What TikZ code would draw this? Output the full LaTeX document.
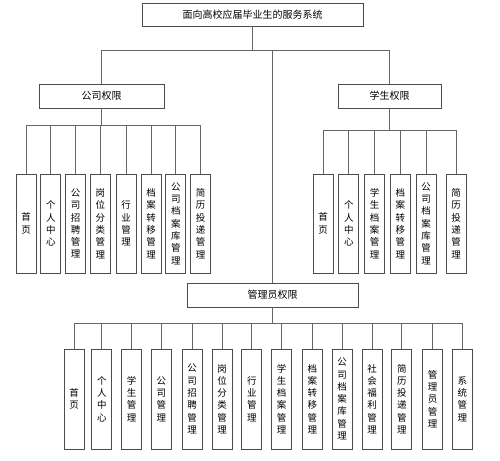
\documentclass[tikz,border=0pt]{standalone}
\usepackage{fontspec}
\setmainfont{Noto Sans CJK SC}
\usepackage{tikz}
\usetikzlibrary{positioning}

\begin{document}
\begin{tikzpicture}[x=1pt, y=1pt, align=center,
    head/.style={rectangle, draw=black!70, line width=0.8pt, minimum height=24pt, inner sep=0pt, font=\fontsize{10}{12}\selectfont},
    leaf/.style={rectangle, draw=black!70, line width=0.8pt, minimum width=20pt, minimum height=99pt, inner sep=0pt, font=\fontsize{9.5}{12.3}\selectfont},
    link/.style={draw=black!60, line width=0.8pt}]
    \useasboundingbox (0,0) rectangle (500,460);
    % Top level and role nodes
    \node[head, minimum width=221pt, minimum height=23pt](sys) at (252.5,445.5){面向高校应届毕业生的服务系统};
    \node[head, minimum width=125pt](comp) at (101.5,364){公司权限};
    \node[head, minimum width=103pt](stu) at (389.5,364){学生权限};
    \node[head, minimum width=171pt](adm) at (272.5,165){管理员权限};
    % Role connections
    \draw[link] (sys.south) -- ++(0,-25);
    \draw[link] (comp.north) -- ++(0,33) -| (stu.north);
    \draw[link] (adm.north) -- ++(0,232);
    % Company leaves
    \node[leaf](c1) at (26,236.5){首\\页};
    \node[leaf, right=4pt of c1](c2){个\\人\\中\\心};
    \node[leaf, right=4pt of c2](c3){公\\司\\招\\聘\\管\\理};
    \node[leaf, right=4pt of c3](c4){岗\\位\\分\\类\\管\\理};
    \node[leaf, right=5pt of c4](c5){行\\业\\管\\理};
    \node[leaf, right=4pt of c5](c6){档\\案\\转\\移\\管\\理};
    \node[leaf, right=4pt of c6](c7){公\\司\\档\\案\\库\\管\\理};
    \node[leaf, right=4pt of c7](c8){简\\历\\投\\递\\管\\理};
    % Student leaves
    \node[leaf](s1) at (323,236.5){首\\页};
    \node[leaf, right=5pt of s1](s2){个\\人\\中\\心};
    \node[leaf, right=5pt of s2](s3){学\\生\\档\\案\\管\\理};
    \node[leaf, right=5pt of s3](s4){档\\案\\转\\移\\管\\理};
    \node[leaf, right=5pt of s4](s5){公\\司\\档\\案\\库\\管\\理};
    \node[leaf, right=9pt of s5](s6){简\\历\\投\\递\\管\\理};
    % Admin leaves
    \node[leaf, minimum height=100pt](a1) at (74,61){首\\页};
    \node[leaf, minimum height=100pt, right=7pt of a1](a2){个\\人\\中\\心};
    \node[leaf, minimum height=100pt, right=9pt of a2](a3){学\\生\\管\\理};
    \node[leaf, minimum height=100pt, right=9pt of a3](a4){公\\司\\管\\理};
    \node[leaf, minimum height=100pt, right=10pt of a4](a5){公\\司\\招\\聘\\管\\理};
    \node[leaf, minimum height=100pt, right=9pt of a5](a6){岗\\位\\分\\类\\管\\理};
    \node[leaf, minimum height=100pt, right=9pt of a6](a7){行\\业\\管\\理};
    \node[leaf, minimum height=100pt, right=9pt of a7](a8){学\\生\\档\\案\\管\\理};
    \node[leaf, minimum height=100pt, right=10pt of a8](a9){档\\案\\转\\移\\管\\理};
    \node[leaf, minimum height=100pt, right=9pt of a9](a10){公\\司\\档\\案\\库\\管\\理};
    \node[leaf, minimum height=100pt, right=9pt of a10](a11){社\\会\\福\\利\\管\\理};
    \node[leaf, minimum height=100pt, right=9pt of a11](a12){简\\历\\投\\递\\管\\理};
    \node[leaf, minimum height=100pt, right=10pt of a12](a13){管\\理\\员\\管\\理};
    \node[leaf, minimum height=100pt, right=9pt of a13](a14){系\\统\\管\\理};
    % Company leaf connections
    \draw[link] (c1.north) -- ++(0,48) -| (comp.south);
    \draw[link] (c2.north) -- ++(0,48) -| (comp.south);
    \draw[link] (c3.north) -- ++(0,48) -| (comp.south);
    \draw[link] (c4.north) -- ++(0,48) -| (comp.south);
    \draw[link] (c5.north) -- ++(0,48) -| (comp.south);
    \draw[link] (c6.north) -- ++(0,48) -| (comp.south);
    \draw[link] (c7.north) -- ++(0,48) -| (comp.south);
    \draw[link] (c8.north) -- ++(0,48) -| (comp.south);
    % Student leaf connections
    \draw[link] (s1.north) -- ++(0,43) -| (stu.south);
    \draw[link] (s2.north) -- ++(0,43) -| (stu.south);
    \draw[link] (s3.north) -- ++(0,43) -| (stu.south);
    \draw[link] (s4.north) -- ++(0,43) -| (stu.south);
    \draw[link] (s5.north) -- ++(0,43) -| (stu.south);
    \draw[link] (s6.north) -- ++(0,43) -| (stu.south);
    % Admin leaf connections
    \draw[link] (a1.north) -- ++(0,25) -| (adm.south);
    \draw[link] (a2.north) -- ++(0,25) -| (adm.south);
    \draw[link] (a3.north) -- ++(0,25) -| (adm.south);
    \draw[link] (a4.north) -- ++(0,25) -| (adm.south);
    \draw[link] (a5.north) -- ++(0,25) -| (adm.south);
    \draw[link] (a6.north) -- ++(0,25) -| (adm.south);
    \draw[link] (a7.north) -- ++(0,25) -| (adm.south);
    \draw[link] (a8.north) -- ++(0,25) -| (adm.south);
    \draw[link] (a9.north) -- ++(0,25) -| (adm.south);
    \draw[link] (a10.north) -- ++(0,25) -| (adm.south);
    \draw[link] (a11.north) -- ++(0,25) -| (adm.south);
    \draw[link] (a12.north) -- ++(0,25) -| (adm.south);
    \draw[link] (a13.north) -- ++(0,25) -| (adm.south);
    \draw[link] (a14.north) -- ++(0,25) -| (adm.south);
\end{tikzpicture}
\end{document}
